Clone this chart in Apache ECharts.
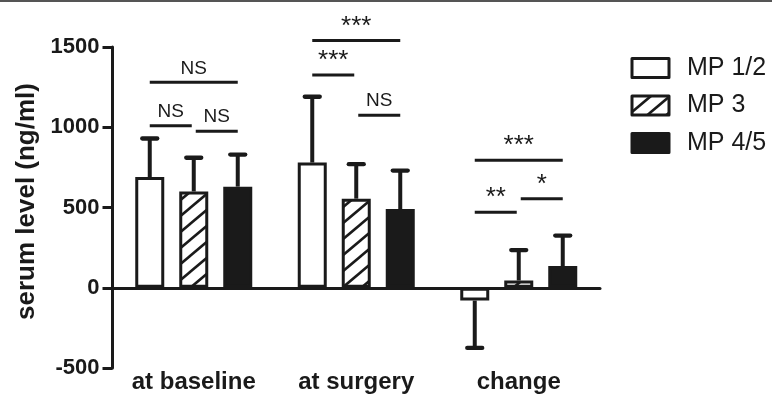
<!DOCTYPE html>
<html>
<head>
<meta charset="utf-8">
<style>
  html, body { margin: 0; padding: 0; background: #fff; }
  #chart { width: 772px; height: 394px; }
</style>
<script src="https://cdn.jsdelivr.net/npm/echarts@6/dist/echarts.min.js"></script>
</head>
<body>
<div id="chart"></div>
<script>
// ---------- data ----------
const categories = ['at baseline', 'at surgery', 'change'];
const seriesNames = ['MP 1/2', 'MP 3', 'MP 4/5'];
const mp12Mean = [690, 780, -80];
const mp12SD   = [240, 410, 295];
const mp3Mean  = [600, 555, 45];
const mp3SD    = [210, 215, 190];
const mp45Mean = [630, 490, 135];
const mp45SD   = [200, 240, 190];
const yTicks = [-500, 0, 500, 1000, 1500];

// significance brackets: category, from bar, to bar, height (ng/ml), label
const bracketCat   = [0, 0, 0, 1, 1, 1, 2, 2, 2];
const bracketFrom  = [0, 0, 1, 0, 0, 1, 0, 0, 1];
const bracketTo    = [2, 1, 2, 2, 1, 2, 2, 1, 2];
const bracketY     = [1280, 1010, 975, 1540, 1325, 1075, 795, 470, 555];
const bracketLabel = ['NS', 'NS', 'NS', '***', '***', 'NS', '***', '**', '*'];

// ---------- style ----------
const INK = '#1a1a1a';
const FONT = '"Liberation Sans", Arial, Helvetica, sans-serif';
const BAR_W = 29;
const BAR_STEP = 44;
const BAR_GAP = BAR_STEP / BAR_W - 1;
const CAP = 7.5;

function makeHatch() {
  const W = 19, H = 16;
  const c = document.createElement('canvas');
  c.width = W; c.height = H;
  const g = c.getContext('2d');
  g.fillStyle = '#fff';
  g.fillRect(0, 0, W, H);
  g.strokeStyle = INK;
  g.lineWidth = 2.6;
  [-W, 0, W].forEach(function (dx) {
    g.beginPath();
    g.moveTo(dx - W, 2 * H);
    g.lineTo(dx + 2 * W, -H);
    g.stroke();
  });
  return c;
}
const hatch = { image: makeHatch(), repeat: 'repeat' };

const means = [mp12Mean, mp3Mean, mp45Mean];
const sds = [mp12SD, mp3SD, mp45SD];
const fills = ['#ffffff', hatch, INK];

const errData = [];
for (let k = 0; k < 3; k++) {
  for (let c = 0; c < categories.length; c++) {
    errData.push([c, k, means[k][c], sds[k][c]]);
  }
}
const brData = bracketCat.map(function (c, i) {
  return [c, bracketFrom[i], bracketTo[i], bracketY[i]];
});

function renderErr(params, api) {
  const cat = api.value(0), k = api.value(1), m = api.value(2), sd = api.value(3);
  const end = m >= 0 ? m + sd : m - sd;
  const p0 = api.coord([cat, m]);
  const p1 = api.coord([cat, end]);
  const x = p0[0] + (k - 1) * BAR_STEP;
  return {
    type: 'group',
    children: [
      { type: 'line', shape: { x1: x, y1: p0[1], x2: x, y2: p1[1] },
        style: { stroke: INK, lineWidth: 4 } },
      { type: 'line', shape: { x1: x - CAP, y1: p1[1], x2: x + CAP, y2: p1[1] },
        style: { stroke: INK, lineWidth: 4.3, lineCap: 'round' } }
    ]
  };
}

function renderBracket(params, api) {
  const cat = api.value(0), a = api.value(1), b = api.value(2), yv = api.value(3);
  const p = api.coord([cat, yv]);
  let x1 = p[0] + (a - 1) * BAR_STEP;
  let x2 = p[0] + (b - 1) * BAR_STEP;
  if (b - a === 1) {
    if (a === 0) x2 -= 2; else x1 += 2;
  }
  const lab = bracketLabel[params.dataIndex];
  const stars = lab.indexOf('*') >= 0;
  return {
    type: 'group',
    children: [
      { type: 'line', shape: { x1: x1, y1: p[1], x2: x2, y2: p[1] },
        style: { stroke: INK, lineWidth: 3 } },
      { type: 'text', x: (x1 + x2) / 2, y: p[1] - 14,
        style: { text: lab, fill: INK, align: 'center', verticalAlign: 'middle',
                 font: (stars ? '26px ' : '19px ') + FONT } }
    ]
  };
}

const chart = echarts.init(document.getElementById('chart'), null, { renderer: 'canvas' });

const barSeries = seriesNames.map(function (name, k) {
  return {
    name: name,
    type: 'bar',
    xAxisIndex: 0,
    data: means[k],
    barWidth: BAR_W,
    barGap: (BAR_GAP * 100) + '%',
    itemStyle: { color: fills[k], borderColor: INK, borderWidth: 3 },
    z: 2
  };
});

chart.setOption({
  animation: false,
  backgroundColor: '#fff',
  graphic: [
    { type: 'rect', left: 0, top: 0, shape: { width: 772, height: 2 }, style: { fill: '#555' } }
  ],
  grid: { left: 112.5, top: 47, right: 172, bottom: 24, containLabel: false },
  legend: {
    orient: 'vertical',
    left: 630.5,
    top: 55.5,
    padding: 0,
    itemWidth: 37,
    itemHeight: 19,
    itemGap: 12.5,
    icon: 'rect',
    textStyle: { fontFamily: FONT, fontSize: 25, color: INK, lineHeight: 25, padding: [0, 0, 0, 13] },
    data: seriesNames.map(function (n, k) {
      return { name: n, itemStyle: { color: fills[k], borderColor: INK, borderWidth: 3, borderJoin: 'round' } };
    })
  },
  xAxis: [
    {
      type: 'category',
      data: categories,
      position: 'bottom',
      axisLine: { onZero: true, lineStyle: { color: INK, width: 3 } },
      axisTick: { alignWithLabel: true, length: 10, lineStyle: { color: INK, width: 2.5 } },
      axisLabel: { show: false },
      z: 3
    },
    {
      type: 'category',
      data: categories,
      position: 'bottom',
      axisLine: { show: false, onZero: false },
      axisTick: { show: false },
      axisLabel: { show: true, margin: 2, fontFamily: FONT, fontSize: 24, fontWeight: 'bold', color: INK }
    }
  ],
  yAxis: {
    type: 'value',
    min: -500,
    max: 1500,
    interval: 500,
    name: 'serum level (ng/ml)',
    nameLocation: 'middle',
    nameRotate: 90,
    nameGap: 57,
    nameTextStyle: { fontFamily: FONT, fontSize: 26, fontWeight: 'bold', color: INK, padding: [0, 0, 0, 12] },
    axisLine: { show: true, lineStyle: { color: INK, width: 3 } },
    axisTick: { show: true, length: 10, lineStyle: { color: INK, width: 3 } },
    axisLabel: {
      margin: 13, fontFamily: FONT, fontSize: 22, fontWeight: 'bold', color: INK,
      customValues: yTicks,
      formatter: function (v) { return String(v); }
    },
    splitLine: { show: false }
  },
  series: barSeries.concat([
    {
      type: 'custom',
      xAxisIndex: 0,
      renderItem: renderErr,
      data: errData,
      encode: { x: 0, y: 2 },
      z: 4,
      silent: true
    },
    {
      type: 'custom',
      xAxisIndex: 0,
      renderItem: renderBracket,
      data: brData,
      encode: { x: 0, y: 3 },
      clip: false,
      z: 5,
      silent: true
    }
  ])
});
</script>
</body>
</html>
